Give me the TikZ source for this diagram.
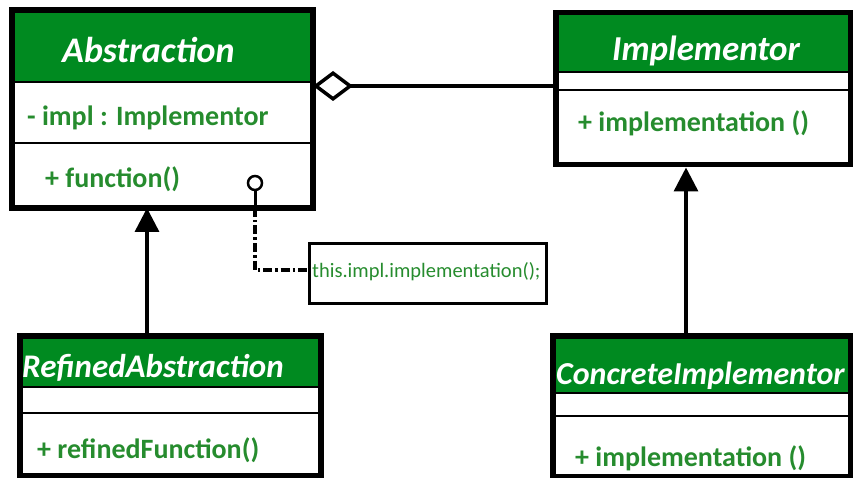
\documentclass[tikz,border=0pt]{standalone}
\usepackage{fontspec}
\setmainfont{Carlito}
\usetikzlibrary{arrows.meta}
\definecolor{hdrgreen}{RGB}{0,138,32}
\definecolor{txtgreen}{RGB}{38,140,46}
\tikzset{
  frame/.style={draw=black, line width=5.5pt},
  hdr/.style={fill=hdrgreen},
  divider/.style={draw=black, line width=2pt},
  title/.style={text=white, font=\fontsize{#1}{#1}\selectfont\bfseries\itshape, inner sep=0pt},
  title/.default=35,
  member/.style={text=txtgreen, font=\fontsize{28}{30}\selectfont\bfseries, inner sep=0pt},
  notetext/.style={text=txtgreen, font=\fontsize{20.5}{22}\selectfont, inner sep=0pt},
  conn/.style={draw=black, line width=3.5pt},
  inherit/.style={conn, -{Triangle[width=24pt,length=24pt]}},
  dashdot/.style={draw=black, line width=3.5pt, dash pattern=on 9pt off 3pt on 2.5pt off 3pt},
}
\begin{document}
\begin{tikzpicture}[x=1pt,y=-1pt]
\useasboundingbox (0,0) rectangle (853,478);

% Abstraction
\fill[hdr] (12,10) rectangle (313,82);
\draw[divider] (12,82) -- (313,82);
\draw[divider] (12,143) -- (313,143);
\node[frame, anchor=north west, minimum width=301pt, minimum height=198pt, inner sep=0pt, outer sep=0pt] (abs) at (12,10) {};
\node[title=36, anchor=base west] (absT) at (62,63) {Abstraction};
\node[member, anchor=base west] (absA) at (27,126) {- impl : Implementor};
\node[member, anchor=base west] (absM) at (45,188) {+ function()};

% Implementor
\fill[hdr] (553,10) rectangle (848,72);
\draw[divider] (553,72) -- (848,72);
\draw[divider] (553,90) -- (848,90);
\node[frame, anchor=north west, minimum width=295pt, minimum height=152pt, inner sep=0pt] (imp) at (553,10) {};
\node[title=35, anchor=base west] (impT) at (612,61) {Implementor};
\node[member, anchor=base west] (impM) at (578,132) {+ implementation ()};

% RefinedAbstraction
\fill[hdr] (17,333) rectangle (318,387);
\draw[divider] (17,387) -- (318,387);
\draw[divider] (17,413) -- (318,413);
\node[frame, anchor=north west, minimum width=301pt, minimum height=140pt, inner sep=0pt] (ref) at (17,333) {};
\node[title=33, anchor=base west] (refT) at (22,377) {RefinedAbstraction};
\node[member, anchor=base west] (refM) at (37,458) {+ refinedFunction()};

% ConcreteImplementor
\fill[hdr] (550,333) rectangle (848,393);
\draw[divider] (550,393) -- (848,393);
\draw[divider] (550,416) -- (853,416);
\node[frame, anchor=north west, minimum width=298pt, minimum height=141pt, inner sep=0pt] (con) at (550,333) {};
\node[title=32, anchor=base west] (conT) at (556,384) {ConcreteImplementor};
\node[member, anchor=base west] (conM) at (575,466) {+ implementation ()};

% Note
\node[draw=black, line width=2.5pt, anchor=north west, minimum width=237pt, minimum height=60pt, inner sep=0pt] (note) at (308,242) {};
\node[notetext, anchor=base west] (noteT) at (312,277) {this.impl.implementation();};

% Aggregation
\draw[conn, {Diamond[open,length=40pt,width=30pt]}-] (abs.east |- 0,86) -- (imp.west |- 0,86);

% Generalisations
\draw[inherit] (ref.north -| 147,0) -- (abs.south -| 147,0);
\draw[inherit] (con.north -| 686,0) -- (imp.south -| 686,0);

% Lollipop and note link
\node[draw=black, line width=2.5pt, circle, minimum size=14pt, inner sep=0pt] (lol) at (255,183) {};
\coordinate (bend) at (255,270);
\draw[line width=3pt] (lol.south) -- (abs.south -| lol.south);
\draw[dashdot] (abs.south -| lol.south) -- (bend) -- (note.west |- bend);
\end{tikzpicture}
\end{document}
